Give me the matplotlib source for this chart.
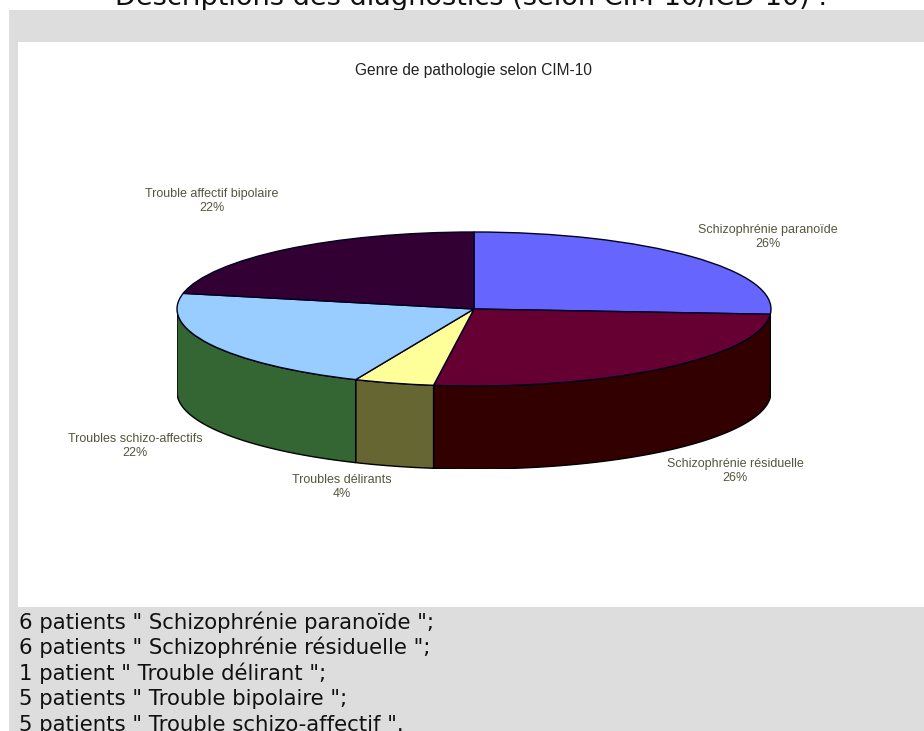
import numpy as np
import matplotlib
matplotlib.use("Agg")
import matplotlib.pyplot as plt
from matplotlib.patches import Rectangle

W, H = 924, 731

categories = ["Schizophrénie paranoïde", "Schizophrénie résiduelle", "Troubles délirants",
              "Troubles schizo-affectifs", "Trouble affectif bipolaire"]
patients = [6, 6, 1, 5, 5]
percent_labels = ["26%", "26%", "4%", "22%", "22%"]
top_colors = ["#6666FF", "#660033", "#FFFF99", "#99CCFF", "#330033"]
side_colors = ["#333380", "#330000", "#666633", "#336633", "#1A001A"]
label_px = [(768, 237), (735, 471), (342, 487), (135, 446), (212, 201)]
heading = "Descriptions des diagnostics (selon CIM-10/ICD-10) :"
chart_title = "Genre de pathologie selon CIM-10"
notes = ['6 patients " Schizophrénie paranoïde ";',
         '6 patients " Schizophrénie résiduelle ";',
         '1 patient " Trouble délirant ";',
         '5 patients " Trouble bipolaire ";',
         '5 patients " Trouble schizo-affectif ".']
note_y = [622, 647, 673, 699, 725]

fig = plt.figure(figsize=(W / 100, H / 100), dpi=100, facecolor="white")
bg = fig.add_axes([0, 0, 1, 1])
bg.set_xlim(0, W)
bg.set_ylim(H, 0)
bg.axis("off")

bg.text(471, 5, heading, ha="center", va="baseline", fontsize=19.5,
        family="DejaVu Sans", color="#111111", zorder=1)
bg.add_patch(Rectangle((9, 10), W - 9, H - 10, fc="#DDDDDD", ec="none", zorder=2))
bg.add_patch(Rectangle((18, 42), W - 18, 565, fc="white", ec="none", zorder=3))

bg.text(473, 71, chart_title, ha="center", va="center", fontsize=11.2,
        family="Liberation Sans", color="#222222", zorder=4)
for name, pct, (x, y) in zip(categories, percent_labels, label_px):
    bg.text(x, y, name + "\n" + pct, ha="center", va="center", fontsize=9.0,
            family="Liberation Sans", color="#55553F", linespacing=1.2, zorder=4)
for line, y in zip(notes, note_y):
    bg.text(19, y, line, ha="left", va="center", fontsize=15.3,
            family="DejaVu Sans", color="#111111", zorder=4)

# Pie: centre (474, 309), radii 297 x 77 px, wall depth 83 px
cx, cy, a, b, depth = 474, 309, 297, 77, 83
ax = fig.add_axes([(cx - a) / W, 1 - (cy + b + depth) / H, 2 * a / W, (2 * b + depth) / H])
ax.patch.set_alpha(0)
wedges, _ = ax.pie(patients, colors=top_colors, startangle=90, counterclock=False,
                   radius=1, wedgeprops=dict(edgecolor="#000020", linewidth=1.0))
d = depth / b
ax.set_aspect("auto")
ax.set_xlim(-1, 1)
ax.set_ylim(-1 - d, 1)
for w, c in zip(wedges, side_colors):
    t = np.radians(np.linspace(w.theta1, w.theta2, 400))
    t = t[np.sin(t) <= 0]
    if t.size < 2:
        continue
    xs, ys = np.cos(t), np.sin(t)
    ax.fill(np.r_[xs, xs[::-1]], np.r_[ys, ys[::-1] - d], fc=c, ec="black", lw=1.0, zorder=0.5)
for w in wedges:
    w.set_zorder(2)

fig.savefig("out.png", dpi=100)
